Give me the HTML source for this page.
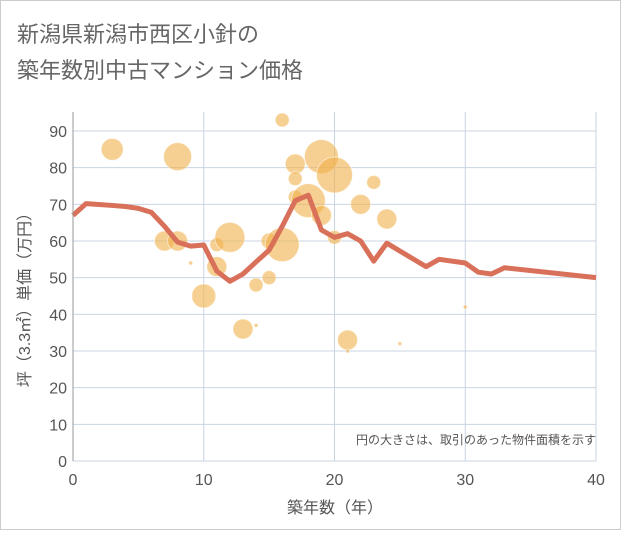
<!DOCTYPE html>
<html><head><meta charset="utf-8"><style>
body{margin:0;background:#fff;}
svg text{font-family:"Liberation Sans","Noto Sans CJK JP",sans-serif;}
</style></head><body>
<svg id="chart" width="621" height="530" xmlns="http://www.w3.org/2000/svg">
<rect x="0.5" y="0.5" width="620" height="529" fill="#fff" stroke="#ccc"/>
<text x="17" y="42" font-size="22" fill="#666">新潟県新潟市西区小針の</text>
<text x="17" y="78" font-size="22" fill="#666">築年数別中古マンション価格</text>
<g id="grid"></g>
<g id="bubbles"></g>
<g id="line"></g>
<g id="axes"></g>
<text x="596" y="444" font-size="12" fill="#555" text-anchor="end">円の大きさは、取引のあった物件面積を示す</text>
<text x="335" y="513" font-size="16" fill="#555" text-anchor="middle">築年数（年）</text>
<text transform="translate(30,296) rotate(-90)" font-size="16" fill="#555" text-anchor="middle">坪（3.3㎡）単価（万円）</text>
</svg>
<script>
const xTicks=[0,10,20,30,40];
const yTicks=[0,10,20,30,40,50,60,70,80,90];
const bubbleYears=[3,8,7,8,9,10,11,11,12,13,14,14,15,15,16,16,17,17,17,18,19,19,20,20,21,21,23,22,24,25,30];
const bubblePrices=[85,83,60,60,54,45,59,53,61,36,48,37,60,50,93,59,81,77,72,71,83,67,78,61,33,30,76,70,66,32,42];
const bubbleSizes=[11,14,10,10,2,12,7,10,15,10,7,2,8,7,7,17,10,7,7,17,17,10,18,7,10,2,7,10,10,2,2];
const lineYears=[0,1,3,4,5,6,7,8,9,10,11,12,13,14,15,16,17,18,19,20,21,22,23,24,27,28,30,31,32,33,40];
const linePrices=[67,70.2,69.7,69.4,68.9,67.8,64,59.7,58.6,58.9,51.8,49,51,54.3,57.5,64,71,72.5,63,61,62,60,54.5,59.4,53,55,54,51.5,51,52.7,50];
const NS="http://www.w3.org/2000/svg";
const X0=73,X1=596,Y0=461,Y1=131;
const xs=v=>X0+(v-0)/(40-0)*(X1-X0);
const ys=v=>Y0-(v/90)*(Y0-Y1);
function mk(t,a,p){const e=document.createElementNS(NS,t);for(const k in a)e.setAttribute(k,a[k]);p.appendChild(e);return e;}
const grid=document.getElementById('grid'),axes=document.getElementById('axes');
mk('rect',{x:X0,y:112,width:X1-X0,height:Y0-112,fill:'#fff'},grid);
yTicks.forEach(v=>{
 const l=mk('line',{x1:X0,x2:X1,y1:ys(v),y2:ys(v),stroke:'#c8d4e2','stroke-width':1},grid);
 
 
 const t=mk('text',{x:X0-6,y:ys(v)+6,'font-size':16,fill:'#555','text-anchor':'end'},axes);
 t.textContent=v;
 
 
});
xTicks.forEach(v=>{
 const l=mk('line',{x1:xs(v),x2:xs(v),y1:112,y2:Y0,stroke:'#c8d4e2','stroke-width':1},grid);
 
 
 const t=mk('text',{x:xs(v),y:Y0+24,'font-size':16,fill:'#555','text-anchor':'middle'},axes);
 t.textContent=v;
 
 
});
const ax=mk('line',{x1:X0,x2:X0,y1:112,y2:Y0,stroke:'#999'},axes);


const b=document.getElementById('bubbles');
bubbleYears.forEach((yr,i)=>{
 const c=mk('circle',{cx:xs(yr),cy:ys(bubblePrices[i]),r:bubbleSizes[i],fill:'#f0b14a','fill-opacity':0.6,stroke:'#fff','stroke-opacity':0.5},b);
 
 
});
const pts=lineYears.map((y,i)=>xs(y)+','+ys(linePrices[i])).join(' ');
const pl=mk('polyline',{points:pts,fill:'none',stroke:'#d9705a','stroke-width':5,'stroke-linejoin':'round'},document.getElementById('line'));


</script>
</body></html>
